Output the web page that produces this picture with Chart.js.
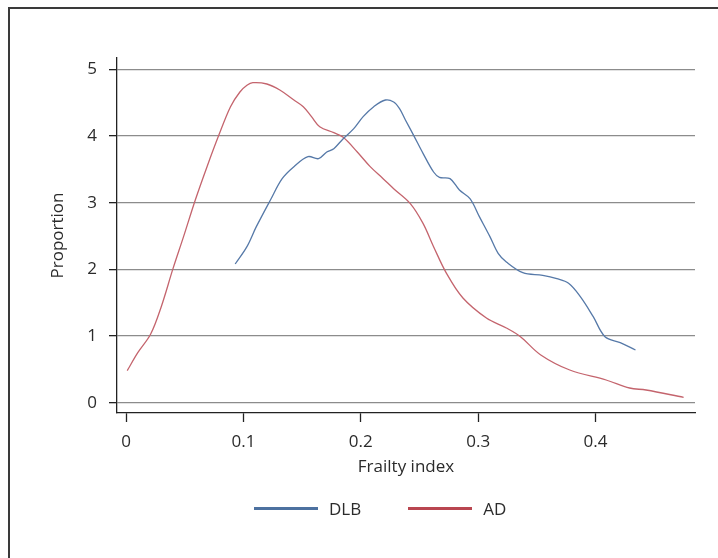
<!DOCTYPE html>
<html>
<head>
<meta charset="utf-8">
<title>Frailty index density</title>
<script src="https://cdn.jsdelivr.net/npm/chart.js@4/dist/chart.umd.min.js"></script>
<style>
  html, body { margin: 0; padding: 0; background: #fff; }
  body {
    width: 718px; height: 558px; overflow: hidden; position: relative;
    font-family: "Open Sans", "Noto Sans", sans-serif;
  }
  .frame {
    position: absolute; left: 8px; top: 7px; width: 780px; height: 620px;
    border: 2px solid #3a3a3a; box-sizing: border-box;
  }
  #chart { position: absolute; left: 0; top: 0; }
  .legend {
    position: absolute; left: 254px; top: 496px; height: 24px;
    display: flex; align-items: center;
    font-size: 17px; color: #2b2b2b;
  }
  .legend .item { display: flex; align-items: center; margin-right: 47px; }
  .legend .swatch { width: 64px; height: 3px; margin-right: 11px; }
</style>
</head>
<body>
<div class="frame"></div>
<canvas id="chart" width="718" height="558"></canvas>
<div class="legend" id="legend"></div>

<script>
/* =========================================================
   DATA
========================================================= */

const DLB_X = [0.093, 0.103, 0.111, 0.123, 0.133, 0.143, 0.155, 0.164, 0.171, 0.177,
               0.185, 0.194, 0.202, 0.211, 0.221, 0.228, 0.233, 0.238, 0.245, 0.253,
               0.262, 0.267, 0.276, 0.284, 0.293, 0.301, 0.310, 0.317, 0.324, 0.338,
               0.355, 0.367, 0.377, 0.387, 0.398, 0.408, 0.421, 0.434];
const DLB_Y = [2.08, 2.34, 2.64, 3.04, 3.36, 3.54, 3.69, 3.66, 3.76, 3.81,
               3.96, 4.11, 4.29, 4.44, 4.54, 4.51, 4.41, 4.24, 4.01, 3.74,
               3.46, 3.38, 3.36, 3.19, 3.06, 2.79, 2.49, 2.24, 2.11, 1.95,
               1.91, 1.86, 1.79, 1.59, 1.29, 0.99, 0.90, 0.79];

const AD_X = [0.001, 0.010, 0.021, 0.030, 0.040, 0.049, 0.059, 0.069, 0.079, 0.089,
              0.097, 0.103, 0.108, 0.120, 0.131, 0.143, 0.151, 0.158, 0.165, 0.177,
              0.185, 0.197, 0.208, 0.219, 0.228, 0.242, 0.253, 0.262, 0.273, 0.287,
              0.307, 0.324, 0.336, 0.353, 0.378, 0.409, 0.429, 0.443, 0.475];
const AD_Y = [0.48, 0.75, 1.03, 1.44, 2.01, 2.49, 3.04, 3.54, 4.01, 4.44,
              4.66, 4.76, 4.80, 4.78, 4.69, 4.54, 4.44, 4.29, 4.14, 4.05,
              3.98, 3.76, 3.54, 3.36, 3.21, 2.99, 2.69, 2.34, 1.94, 1.57,
              1.27, 1.12, 0.99, 0.72, 0.49, 0.34, 0.22, 0.19, 0.08];

const X_TICKS = [0, 0.1, 0.2, 0.3, 0.4];
const Y_TICKS = [0, 1, 2, 3, 4, 5];

const SERIES = [
  { label: "DLB", xs: DLB_X, ys: DLB_Y, line: "#5679a8", key: "#4d71a0" },
  { label: "AD",  xs: AD_X,  ys: AD_Y,  line: "#c4646d", key: "#b94650" }
];

/* =========================================================
   STYLE
========================================================= */

const FONT = { family: "'Open Sans', 'Noto Sans', sans-serif", size: 17 };
const TEXT = "#2b2b2b";
const AXIS = "#222";

function toPoints(xs, ys) {
  return xs.map((x, i) => ({ x: x, y: ys[i] }));
}

function fixedTicks(values) {
  return (scale) => { scale.ticks = values.map(v => ({ value: v })); };
}

/* =========================================================
   CHART
========================================================= */

new Chart(document.getElementById("chart").getContext("2d"), {
  type: "line",
  data: {
    datasets: SERIES.map(s => ({
      label: s.label,
      data: toPoints(s.xs, s.ys),
      borderColor: s.line,
      borderWidth: 1.3,
      pointRadius: 0,
      tension: 0.35,
      fill: false
    }))
  },
  options: {
    responsive: false,
    animation: false,
    layout: { padding: { top: 58, right: 23, bottom: 79, left: 0 } },
    plugins: { legend: { display: false }, tooltip: { enabled: false } },
    scales: {
      x: {
        type: "linear",
        min: -0.0077,
        max: 0.4847,
        afterBuildTicks: fixedTicks(X_TICKS),
        afterFit: (s) => { s.height = 66; },
        grid: { drawOnChartArea: false, tickLength: 9, tickColor: AXIS, tickWidth: 1.3 },
        border: { color: AXIS, width: 1.3 },
        ticks: {
          padding: 10, color: TEXT, font: FONT,
          maxRotation: 0, autoSkip: false,
          callback: (v) => String(v)
        },
        title: {
          display: true, text: "Frailty index", color: TEXT, font: FONT,
          padding: { top: 0, bottom: 2 }
        }
      },
      y: {
        min: -0.155,
        max: 5.17,
        afterBuildTicks: fixedTicks(Y_TICKS),
        afterFit: (s) => { s.width = 117; },
        grid: { color: "#8c8c8c", lineWidth: 1.3, tickLength: 8, tickColor: AXIS, tickWidth: 1.3 },
        border: { color: AXIS, width: 1.3 },
        ticks: { padding: 12, color: TEXT, font: FONT, callback: (v) => String(v) },
        title: {
          display: true, text: "Proportion", color: TEXT, font: FONT,
          padding: { top: 48, bottom: 0 }
        }
      }
    }
  }
});

/* =========================================================
   LEGEND
========================================================= */

const legend = document.getElementById("legend");
SERIES.forEach(s => {
  const item = document.createElement("div");
  item.className = "item";
  const sw = document.createElement("span");
  sw.className = "swatch";
  sw.style.background = s.key;
  const txt = document.createElement("span");
  txt.textContent = s.label;
  item.appendChild(sw);
  item.appendChild(txt);
  legend.appendChild(item);
});
</script>
</body>
</html>
